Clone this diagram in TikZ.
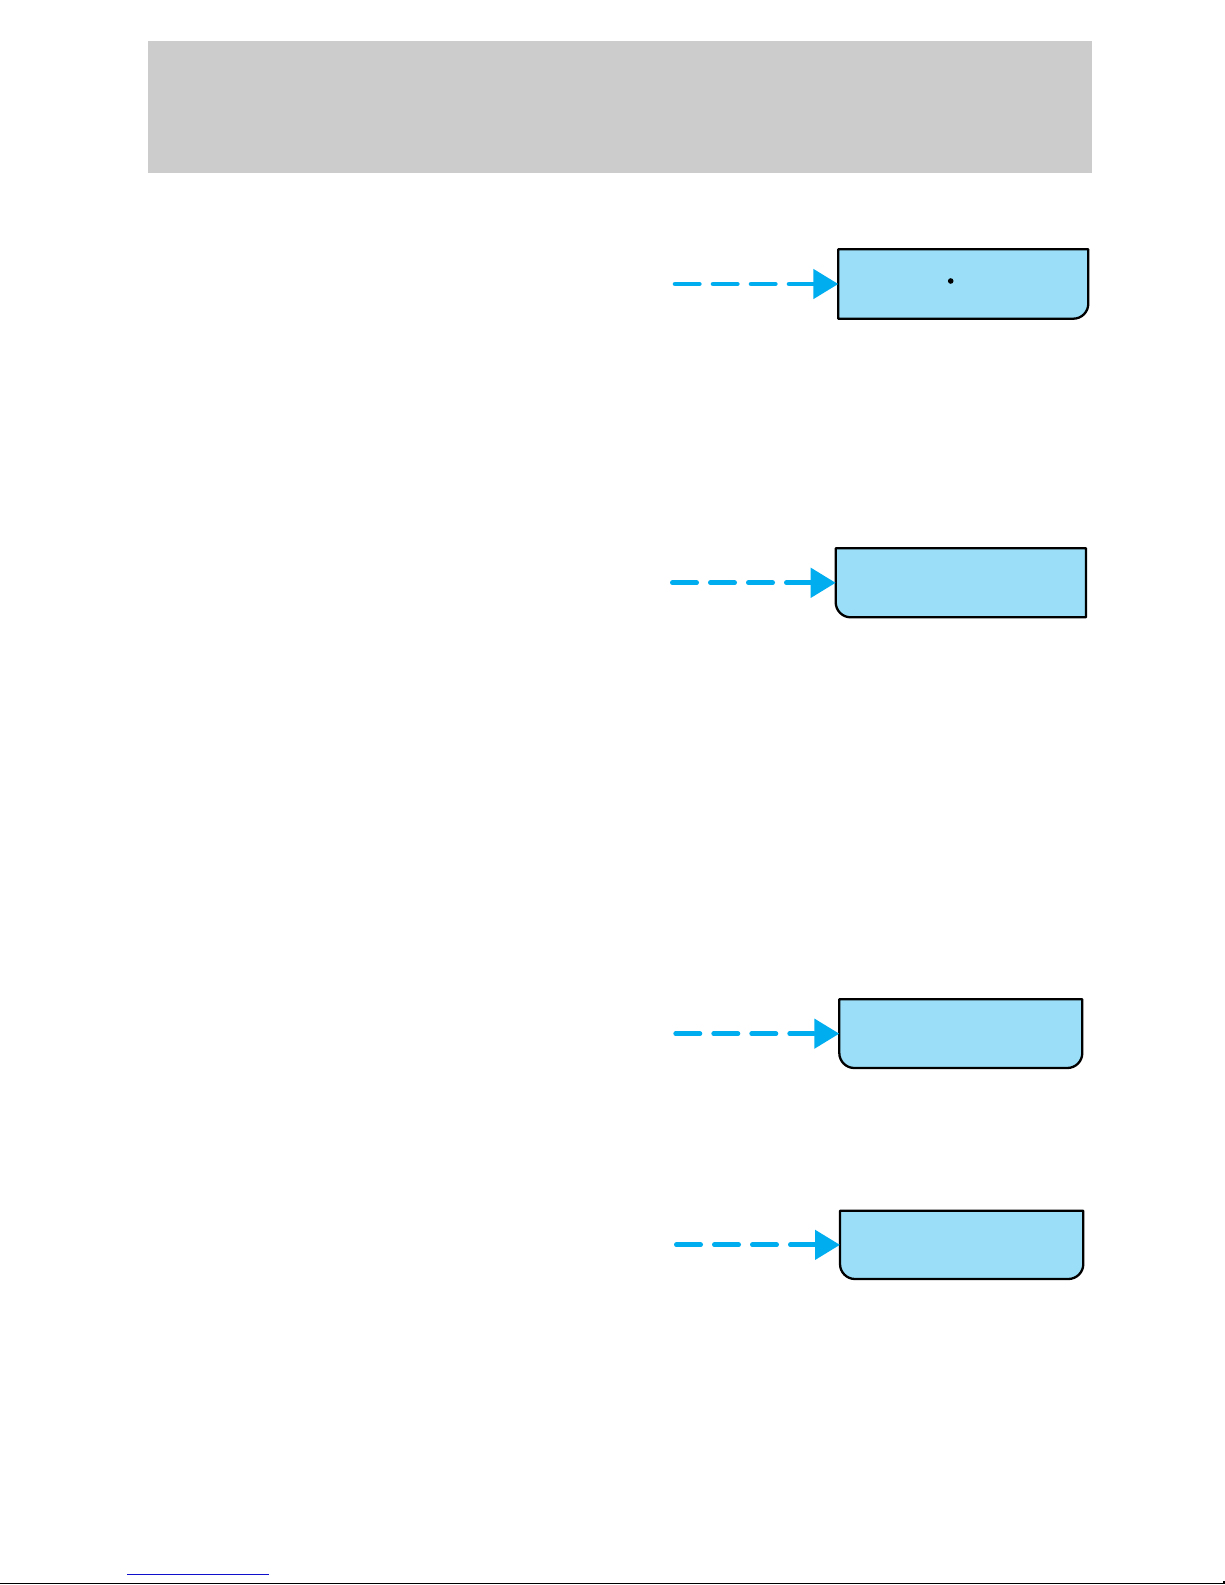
\documentclass[tikz,border=0pt]{standalone}
\usetikzlibrary{arrows.meta}
\definecolor{hdrgray}{HTML}{CCCCCC}
\definecolor{boxfill}{HTML}{9ADEF7}
\definecolor{flowcyan}{HTML}{00AEEF}
\definecolor{linkblue}{HTML}{1010CC}
\tikzset{
  anchorbox/.style={inner sep=0pt, outer sep=0pt, draw=none, fill=none},
  boxline/.style={draw=black, fill=boxfill, line width=1.15pt, line join=round},
  flow/.style={draw=flowcyan, line width=2.4pt, line cap=round, dash pattern=on 12.1pt off 6.9pt,
    -{Triangle[length=12.5pt,width=14.5pt,fill=flowcyan]}},
}
\begin{document}
\begin{tikzpicture}[x=0.5pt,y=0.5pt]
\useasboundingbox (0,0) rectangle (1225,-1585);
\fill[white] (0,0) rectangle (1225,-1585);
% header band
\node[anchorbox, fill=hdrgray, minimum width=472pt, minimum height=65.75pt] (header) at (620,-106.75) {};
% boxes (anchors)
\node[anchorbox, minimum width=125pt, minimum height=34.7pt] (b1) at (963.3,-284) {};
\node[anchorbox, minimum width=125.15pt, minimum height=34.5pt] (b2) at (960.85,-582.8) {};
\node[anchorbox, minimum width=121.5pt, minimum height=34.35pt] (b3) at (960.8,-1033.65) {};
\node[anchorbox, minimum width=121.65pt, minimum height=34.15pt] (b4) at (961.65,-1244.85) {};
% box outlines
\path[boxline] (b1.north west) -- (b1.north east) -- ([yshift=7.5pt]b1.south east)
  arc[start angle=0, end angle=-90, radius=7.5pt] -- (b1.south west) -- cycle;
\path[boxline] (b2.north west) -- (b2.north east) -- (b2.south east) -- ([xshift=7.5pt]b2.south west)
  arc[start angle=270, end angle=180, radius=7.5pt] -- cycle;
\path[boxline] (b3.north west) -- (b3.north east) -- ([yshift=7.5pt]b3.south east)
  arc[start angle=0, end angle=-90, radius=7.5pt] -- ([xshift=7.5pt]b3.south west)
  arc[start angle=270, end angle=180, radius=7.5pt] -- cycle;
\path[boxline] (b4.north west) -- (b4.north east) -- ([yshift=7.5pt]b4.south east)
  arc[start angle=0, end angle=-90, radius=7.5pt] -- ([xshift=7.5pt]b4.south west)
  arc[start angle=270, end angle=180, radius=7.5pt] -- cycle;
% dot in first box
\node[circle, fill=black, inner sep=0pt, minimum size=2.8pt] (dot1) at (950.7,-281) {};
% arrows
\coordinate (s1) at (675.1,-284);
\coordinate (s2) at (672.4,-582.8);
\coordinate (s3) at (675.7,-1033.65);
\coordinate (s4) at (676.4,-1244.85);
\draw[flow] (s1) -- (b1.west);
\draw[flow] (s2) -- (b2.west);
\draw[flow] (s3) -- (b3.west);
\draw[flow] (s4) -- (b4.west);
% footer lines
\coordinate (ul1) at (127,-1574.5);
\coordinate (ul2) at (269,-1574.5);
\draw[linkblue, line width=0.55pt] (ul1) -- (ul2);
\coordinate (f1) at (0,-1583.6);
\coordinate (f2) at (1224,-1583.6);
\coordinate (f3) at (1224,-1580.5);
\draw[black, line width=0.7pt] (f1) -- (f2) -- (f3);
\end{tikzpicture}
\end{document}
